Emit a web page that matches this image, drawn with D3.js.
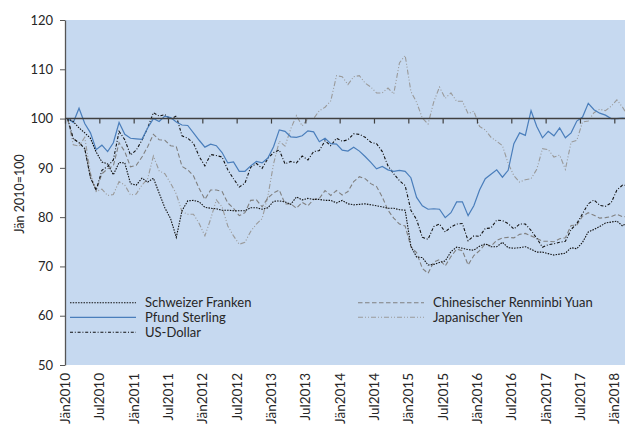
<!DOCTYPE html>
<html>
<head>
  <meta charset="utf-8">
  <script src="https://d3js.org/d3.v7.min.js"></script>
  <style>
    body { margin: 0; background: #fff; }
    text { font-family: Lato, "DejaVu Sans", sans-serif; fill: #262626; }
  </style>
</head>
<body>
  <svg id="chart"></svg>
  <script>
    // x tick labels, one every 6 months
    let tickLabels = ["Jän2010", "Jul2010", "Jän2011", "Jul2011", "Jän2012", "Jul2012",
      "Jän2013", "Jul2013", "Jän2014", "Jul2014", "Jän2015", "Jul2015", "Jän2016",
      "Jul2016", "Jän2017", "Jul2017", "Jän2018"];

    // monthly index values, Jän2010 = 100 (Jan 2010 .. Mar 2018)
    let chf = [
      100, 99.4, 98.1, 97.1, 96.0, 93.2, 91.2, 90.8, 88.6, 91.1, 91.0, 86.8,
      86.5, 87.9, 87.1, 87.9, 84.9, 81.9, 79.7, 75.9, 81.3, 83.3, 83.4, 83.1,
      82.0, 81.8, 81.7, 81.4, 81.4, 81.3, 81.3, 81.3, 81.9, 81.9, 81.6, 81.9,
      83.2, 83.3, 83.1, 82.6, 84.1, 83.5, 83.8, 83.6, 83.6, 83.4, 83.4, 82.9,
      83.4, 82.7, 82.5, 82.6, 82.7, 82.5, 82.3, 82.1, 81.8, 81.8, 81.5, 81.4,
      74.1, 71.9, 71.8, 70.3, 70.4, 70.8, 71.1, 73.0, 73.9, 73.7, 73.4, 73.3,
      74.1, 74.6, 74.0, 74.0, 74.9, 73.8, 73.7, 73.8, 74.0, 73.5, 72.9, 72.9,
      72.6, 72.3, 72.5, 72.7, 73.8, 73.6, 74.9, 77.0, 77.5, 78.1, 78.8, 79.0,
      79.2, 78.2, 79.2];

    let gbp = [
      100, 99.2, 102.1, 99.0, 97.1, 93.7, 94.6, 93.3, 95.1, 99.2, 96.8, 96.0,
      95.9, 95.8, 98.1, 100.0, 99.4, 100.5, 100.2, 99.3, 98.7, 98.6, 97.1, 95.6,
      94.2, 94.8, 94.5, 93.1, 91.0, 91.2, 89.3, 89.3, 90.4, 91.3, 91.0, 92.0,
      94.3, 97.7, 97.4, 96.3, 96.2, 96.5, 97.5, 97.3, 95.3, 96.0, 94.9, 94.8,
      93.6, 93.4, 94.2, 93.4, 92.3, 91.1, 89.8, 90.3, 89.6, 89.3, 89.5, 89.3,
      88.0, 84.0, 82.3, 81.6, 81.7, 81.6, 79.9, 80.9, 83.1, 83.1, 80.3, 82.3,
      85.5, 87.8, 88.7, 89.6, 88.1, 89.5, 94.9, 97.1, 96.6, 101.6, 98.4, 96.1,
      97.4, 96.5, 98.1, 96.1, 97.1, 99.5, 100.3, 103.1, 101.8, 101.1, 100.7, 100.0,
      100.0, 100.1, 100.0];

    let usd = [
      100, 95.9, 95.1, 93.9, 88.0, 85.5, 89.5, 90.3, 91.6, 97.4, 95.7, 92.6,
      93.6, 95.6, 98.1, 101.2, 100.5, 100.8, 99.9, 100.5, 96.5, 96.0, 95.0, 92.3,
      90.4, 92.7, 92.5, 92.2, 89.6, 87.8, 86.1, 86.9, 90.1, 90.9, 89.9, 91.9,
      93.1, 93.6, 90.8, 91.3, 91.0, 92.4, 91.6, 93.3, 93.5, 95.5, 94.5, 96.0,
      95.4, 95.7, 96.9, 96.8, 96.2, 95.2, 94.9, 93.3, 90.4, 88.8, 87.4, 86.4,
      81.4, 79.5, 75.9, 75.5, 78.1, 78.6, 77.0, 78.0, 78.6, 78.7, 75.2, 76.2,
      76.1, 77.7, 77.8, 79.4, 79.3, 78.7, 77.6, 78.6, 78.6, 77.3, 75.7, 73.9,
      74.4, 74.6, 74.9, 75.1, 77.5, 78.7, 80.7, 82.7, 83.5, 82.4, 82.2, 82.9,
      85.5, 86.5, 86.4];

    let cny = [
      100, 95.9, 95.1, 93.9, 88.1, 85.4, 88.8, 89.8, 90.4, 95.1, 93.3, 90.2,
      90.5, 92.2, 94.3, 96.8, 95.7, 95.6, 94.5, 94.3, 90.3, 89.6, 88.4, 85.8,
      83.6, 85.5, 85.5, 85.2, 82.9, 81.8, 80.3, 80.9, 83.4, 83.5, 82.1, 83.9,
      84.9, 85.5, 82.7, 82.7, 81.8, 83.0, 82.3, 83.6, 83.8, 85.4, 84.4, 85.4,
      84.5, 85.2, 87.2, 88.2, 87.8, 86.8, 86.2, 84.1, 81.4, 79.8, 78.6, 78.2,
      74.0, 72.8, 69.6, 68.6, 70.9, 71.4, 70.1, 72.0, 73.5, 73.2, 70.3, 72.2,
      73.2, 74.6, 74.1, 75.3, 75.8, 75.9, 75.8, 76.5, 76.7, 76.2, 75.7, 75.1,
      75.1, 75.0, 75.6, 75.8, 78.3, 78.4, 80.2, 80.9, 80.4, 79.8, 79.9, 80.1,
      80.6, 80.1, 80.1];

    let jpy = [
      100, 94.7, 94.4, 96.2, 88.9, 85.2, 85.7, 84.4, 84.6, 87.2, 86.5, 84.5,
      84.7, 86.5, 87.8, 92.4, 89.4, 88.8, 86.9, 84.7, 81.1, 80.6, 80.6, 78.7,
      76.2, 79.6, 83.5, 82.1, 78.2, 76.2, 74.5, 74.9, 77.1, 78.6, 79.7, 84.2,
      90.8, 95.4, 94.4, 97.9, 100.6, 98.5, 100.0, 100.0, 101.6, 102.3, 103.6, 108.7,
      108.5, 106.9, 108.5, 108.7, 107.2, 106.4, 105.2, 105.2, 106.2, 105.0, 111.3, 112.8,
      105.5, 103.3, 100.1, 98.9, 103.4, 106.4, 104.1, 105.2, 103.5, 103.5, 101.0, 101.5,
      98.4, 97.7, 96.2, 95.4, 94.5, 90.9, 88.4, 87.1, 87.6, 87.8, 89.7, 93.9,
      93.7, 92.2, 92.6, 89.7, 95.2, 95.6, 99.3, 99.5, 101.2, 101.9, 101.6, 102.5,
      103.8, 102.3, 100.4];

    let seriesNames = ["Schweizer Franken", "Pfund Sterling", "US-Dollar",
      "Chinesischer Renminbi Yuan", "Japanischer Yen"];

    // line styles, same order as names
    let series = [
      { name: seriesNames[0], values: chf, color: "#111", dash: "1.5,1.2", w: 1.1 },
      { name: seriesNames[1], values: gbp, color: "#4a7ebb", dash: null, w: 1.2 },
      { name: seriesNames[2], values: usd, color: "#111", dash: "3,1.8,1,1.8", w: 1.1 },
      { name: seriesNames[3], values: cny, color: "#808080", dash: "4.5,2.5", w: 1.1 },
      { name: seriesNames[4], values: jpy, color: "#9a9a9a", dash: "5,2,1,2,1,2", w: 1.1 }
    ];

    let width = 625, height = 426;
    let svg = d3.select("#chart").attr("width", width).attr("height", height);

    let plotLeft = 65, plotRight = 625, plotTop = 20, plotBottom = 365;

    // month index -> x (Jän2010 tick at 0, Jän2018 at 96)
    let x = d3.scaleLinear().domain([0, 96]).range([plotLeft, 614.3]);
    let y = d3.scaleLinear().domain([50, 120]).range([plotBottom, plotTop]);

    // plot background
    svg.append("rect")
      .attr("x", plotLeft).attr("y", plotTop)
      .attr("width", plotRight - plotLeft).attr("height", plotBottom - plotTop)
      .attr("fill", "#c6d9f0");

    svg.append("clipPath").attr("id", "clip")
      .append("rect")
      .attr("x", plotLeft).attr("y", plotTop)
      .attr("width", plotRight - plotLeft).attr("height", plotBottom - plotTop);

    // lines, points sit near mid-month
    let line = d3.line()
      .x((d, i) => x(i + 0.45))
      .y(d => y(d));

    svg.append("g").attr("clip-path", "url(#clip)")
      .selectAll("path")
      .data(series.slice().reverse())
      .enter()
      .append("path")
      .attr("d", d => line(d.values))
      .attr("fill", "none")
      .attr("stroke", d => d.color)
      .attr("stroke-width", d => d.w)
      .attr("stroke-dasharray", d => d.dash);

    // y axis
    let yAxis = svg.append("g")
      .attr("transform", `translate(${plotLeft},0)`)
      .call(d3.axisLeft(y).tickValues(d3.range(50, 121, 10)).tickSize(5).tickSizeOuter(0).tickPadding(7));
    yAxis.select(".domain").attr("stroke", "#555").attr("stroke-width", 1.3);
    yAxis.selectAll(".tick line").attr("stroke", "#555");
    yAxis.selectAll("text").style("font-size", "13px").attr("fill", "#262626");

    // horizontal axis crossing at 100
    let xAxis = svg.append("g")
      .attr("transform", `translate(0,${y(100)})`)
      .call(d3.axisBottom(x).tickValues(d3.range(0, 97, 6)).tickSize(5).tickFormat(""));
    xAxis.select(".domain").remove();
    xAxis.selectAll(".tick line").attr("stroke", "#404040").attr("stroke-width", 1.2);

    svg.append("line")
      .attr("x1", plotLeft).attr("x2", plotRight)
      .attr("y1", y(100)).attr("y2", y(100))
      .attr("stroke", "#404040").attr("stroke-width", 1.6);

    // x labels at the bottom, rotated
    svg.append("g")
      .selectAll("text")
      .data(tickLabels)
      .enter()
      .append("text")
      .attr("transform", (d, i) => `translate(${x(i * 6)},${plotBottom + 8}) rotate(-90)`)
      .attr("dy", "0.36em")
      .attr("text-anchor", "end")
      .style("font-size", "13.5px")
      .text(d => d);

    // y title
    svg.append("text")
      .attr("transform", "translate(20,194) rotate(-90)")
      .attr("dy", "0.35em")
      .attr("text-anchor", "middle")
      .style("font-size", "12.5px")
      .text("Jän 2010=100");

    // legend, two columns inside the plot
    let legendPos = [[70, 302.7], [70, 317.3], [70, 332.3], [358, 302.7], [358, 317.3]];
    let legend = svg.append("g")
      .selectAll("g")
      .data(series)
      .enter()
      .append("g")
      .attr("transform", (d, i) => `translate(${legendPos[i][0]},${legendPos[i][1]})`);

    legend.append("line")
      .attr("x1", 0).attr("x2", 66)
      .attr("stroke", d => d.color)
      .attr("stroke-width", d => d.w)
      .attr("stroke-dasharray", d => d.dash);

    legend.append("text")
      .attr("x", 75)
      .attr("dy", "0.35em")
      .style("font-size", "13px")
      .text(d => d.name);
  </script>
</body>
</html>
